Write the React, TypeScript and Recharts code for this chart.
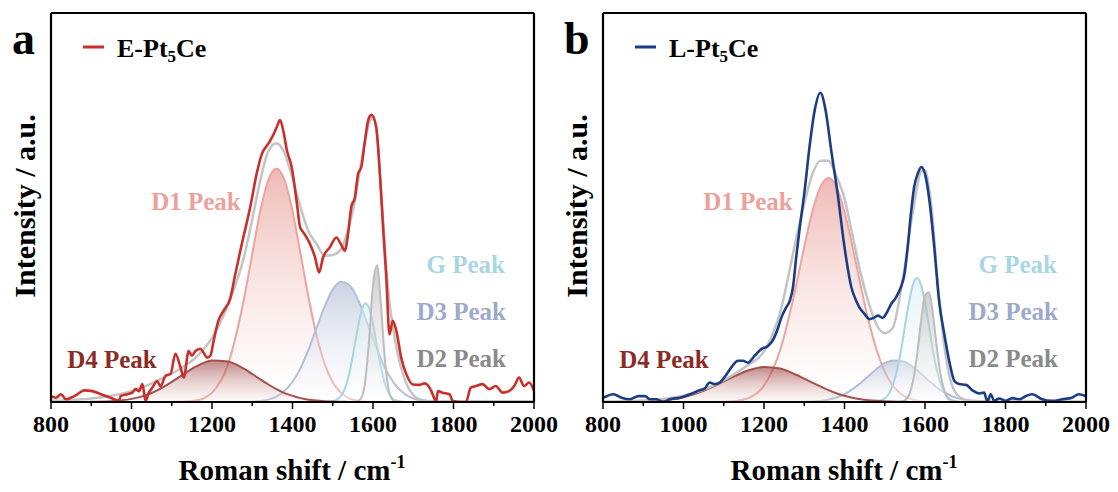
import { Area, ComposedChart, Line, XAxis, YAxis } from 'recharts';

// shared x grid (cm-1) for the fitted curves
const FIT_X = [
    800, 850, 900, 950, 1000,
    1040, 1080, 1120, 1160, 1200,
    1240, 1280, 1300, 1320, 1340,
    1360, 1380, 1400, 1420, 1440,
    1460, 1480, 1500, 1520, 1540,
    1550, 1560, 1570, 1580, 1590,
    1600, 1610, 1620, 1630, 1640,
    1650, 1660, 1680, 1700, 1720,
    1750, 1800, 1900, 2000,
];

// panel a: E-Pt5Ce
const E_FIT = [
    0.3, 0.5, 0.9, 1.6, 2.8,
    4.3, 6.3, 8.5, 11.5, 16.5,
    25.0, 37.5, 47.0, 57.0, 64.5,
    66.5, 64.0, 57.5, 50.0, 43.8,
    40.6, 37.6, 37.8, 39.2, 45.0,
    49.2, 55.0, 61.0, 67.0, 71.5,
    73.2, 68.5, 55.0, 39.0, 26.5,
    19.0, 13.0, 5.5, 1.8, 0.6,
    0.2, 0.2, 0.2, 0.2,
];
const E_D1 = [
    0, 0, 0, 0, 0,
    0, 0, 0.04, 0.4, 2.4,
    9.8, 26.8, 38.1, 49.1, 57.1,
    60.0, 57.1, 49.1, 38.1, 26.8,
    17.0, 9.8, 5.1, 2.4, 1.0,
    0.6, 0.4, 0.2, 0.1, 0.08,
    0.04, 0.02, 0, 0, 0,
    0, 0, 0, 0, 0,
    0, 0, 0, 0,
];
const E_D2 = [
    0, 0, 0, 0, 0,
    0, 0, 0, 0, 0,
    0, 0, 0, 0, 0,
    0, 0, 0, 0, 0,
    0, 0, 0, 0, 0,
    0, 0.1, 0.9, 4.8, 15.5,
    30.2, 35.1, 24.6, 10.3, 2.6,
    0.4, 0.04, 0, 0, 0,
    0, 0, 0, 0,
];
const E_D3 = [
    0, 0, 0, 0, 0,
    0, 0, 0, 0, 0,
    0, 0.03, 0.09, 0.25, 0.61,
    1.4, 2.8, 5.2, 8.7, 13.5,
    19.1, 24.6, 28.9, 30.9, 30.2,
    28.9, 26.9, 24.6, 21.9, 19.1,
    16.3, 13.5, 11.0, 8.7, 6.8,
    5.2, 3.8, 2.0, 0.9, 0.4,
    0.1, 0, 0, 0,
];
const E_D4 = [
    0, 0, 0.04, 0.2, 0.8,
    1.9, 3.9, 6.5, 9.1, 10.7,
    10.4, 8.5, 7.2, 5.8, 4.5,
    3.3, 2.3, 1.6, 1.0, 0.6,
    0.4, 0.2, 0.1, 0.06, 0.03,
    0.02, 0.01, 0, 0, 0,
    0, 0, 0, 0, 0,
    0, 0, 0, 0, 0,
    0, 0, 0, 0,
];
const E_G = [
    0, 0, 0, 0, 0,
    0, 0, 0, 0, 0,
    0, 0, 0, 0, 0,
    0, 0, 0, 0, 0,
    0, 0, 0.18, 1.5, 6.9,
    12.0, 17.8, 22.9, 25.4, 24.3,
    20.1, 14.3, 8.8, 4.6, 2.1,
    0.8, 0.3, 0.02, 0, 0,
    0, 0, 0, 0,
];
const E_SPECTRUM: [number, number][] = [
    [800, 1.5], [812, 1.1], [825, 2.0], [837, 0.7], [849, 1.1], [866, 2.0], [882, 3.0],
    [903, 2.8], [924, 2.0], [948, 1.1], [969, 0.3], [973, 1.5], [990, 2.0], [1002, 2.4],
    [1010, 3.3], [1019, 2.8], [1027, 4.6], [1035, 0.3], [1043, 2.4], [1052, 3.7], [1064, 5.4],
    [1072, 4.0], [1085, 6.8], [1097, 7.2], [1109, 12.4], [1122, 8.8], [1130, 6.3], [1142, 13.1],
    [1150, 11.9], [1159, 13.1], [1171, 13.7], [1179, 12.7], [1188, 11.4], [1196, 11.9],
    [1204, 15.7], [1216, 20.9], [1229, 23.5], [1245, 26.5], [1258, 32.9], [1274, 40.6],
    [1295, 50.1], [1311, 58.7], [1324, 63.8], [1340, 66.4], [1352, 68.6], [1361, 70.7],
    [1369, 72.5], [1377, 69.8], [1386, 64.7], [1398, 60.4], [1410, 51.8], [1419, 44.9],
    [1427, 43.6], [1435, 42.3], [1447, 39.8], [1456, 37.2], [1466, 33.3], [1476, 37.2],
    [1493, 39.8], [1509, 42.3], [1522, 40.2], [1530, 38.9], [1538, 43.2], [1546, 50.1],
    [1555, 52.6], [1563, 58.7], [1571, 60.4], [1579, 66.4], [1588, 72.4], [1596, 73.8],
    [1608, 70.7], [1616, 60.4], [1625, 44.9], [1633, 32.0], [1641, 17.4], [1649, 20.9],
    [1658, 18.3], [1670, 11.4], [1683, 7.1], [1699, 4.5], [1715, 4.4], [1728, 4.8],
    [1744, 3.0], [1750, 1.5], [1757, 0.0], [1761, 2.8], [1773, 2.4], [1790, 2.0], [1798, 0.3],
    [1814, 0.0], [1831, 0.0], [1843, 3.7], [1856, 4.1], [1872, 4.6], [1889, 3.3], [1905, 4.1],
    [1922, 2.4], [1938, 2.8], [1951, 4.1], [1963, 6.3], [1975, 4.1], [1988, 5.0], [2000, 2.8],
];

// panel b: L-Pt5Ce
const L_FIT = [
    0.1, 0.2, 0.4, 0.8, 1.6,
    2.8, 4.5, 6.8, 9.5, 13.0,
    23.0, 42.0, 51.0, 58.5, 62.0,
    62.0, 58.0, 52.3, 42.8, 33.2,
    25.5, 19.8, 17.7, 19.1, 28.6,
    35.0, 42.5, 49.0, 55.0, 59.2,
    59.5, 55.0, 45.8, 32.5, 21.8,
    12.8, 7.0, 1.8, 0.6, 0.3,
    0.1, 0.1, 0.1, 0.1,
];
const L_D1 = [
    0, 0, 0, 0, 0,
    0, 0.02, 0.16, 0.97, 4.2,
    13.3, 30.0, 39.9, 48.9, 55.3,
    57.6, 55.3, 48.9, 39.9, 30.0,
    20.8, 13.3, 7.8, 4.2, 2.1,
    1.45, 0.97, 0.64, 0.41, 0.26,
    0.16, 0.1, 0.06, 0.03, 0,
    0, 0, 0, 0, 0,
    0, 0, 0, 0,
];
const L_D2 = [
    0, 0, 0, 0, 0,
    0, 0, 0, 0, 0,
    0, 0, 0, 0, 0,
    0, 0, 0, 0, 0,
    0, 0, 0, 0, 0.09,
    0.46, 1.8, 5.2, 11.8, 20.6,
    27.5, 28.2, 22.3, 13.5, 6.3,
    2.3, 0.6, 0.02, 0, 0,
    0, 0, 0, 0,
];
const L_D3 = [
    0, 0, 0, 0, 0,
    0, 0, 0, 0, 0,
    0, 0.02, 0.05, 0.13, 0.29,
    0.61, 1.16, 2.0, 3.3, 4.9,
    6.7, 8.5, 10.0, 10.7, 10.6,
    10.3, 9.7, 9.0, 8.2, 7.3,
    6.4, 5.4, 4.6, 3.7, 3.0,
    2.4, 1.8, 1.0, 0.5, 0.25,
    0.07, 0, 0, 0,
];
const L_D4 = [
    0, 0.03, 0.12, 0.42, 1.24,
    2.5, 4.3, 6.3, 8.1, 9.0,
    8.6, 7.0, 6.0, 5.0, 4.0,
    3.05, 2.26, 1.6, 1.1, 0.73,
    0.47, 0.29, 0.17, 0.1, 0.05,
    0.04, 0.03, 0.02, 0.01, 0,
    0, 0, 0, 0, 0,
    0, 0, 0, 0, 0,
    0, 0, 0, 0,
];
const L_G = [
    0, 0, 0, 0, 0,
    0, 0, 0, 0, 0,
    0, 0, 0, 0, 0,
    0, 0, 0, 0, 0,
    0, 0.12, 0.9, 4.3, 13.1,
    19.4, 25.5, 30.2, 31.9, 30.2,
    25.5, 19.4, 13.1, 8.0, 4.3,
    2.1, 0.9, 0.12, 0, 0,
    0, 0, 0, 0,
];
const L_SPECTRUM: [number, number][] = [
    [801, 1.1], [826, 2.0], [846, 1.1], [867, 0.7], [888, 1.5], [904, 1.5], [917, 0.7],
    [933, 0.7], [949, 0.0], [966, 0.7], [991, 1.1], [1016, 2.0], [1040, 3.0], [1053, 3.5],
    [1065, 5.0], [1078, 4.6], [1090, 5.0], [1107, 7.1], [1123, 9.5], [1135, 10.6], [1148, 10.6],
    [1160, 10.1], [1177, 11.9], [1193, 13.6], [1210, 14.4], [1222, 15.9], [1235, 19.1],
    [1243, 21.7], [1255, 24.3], [1264, 26.0], [1272, 29.5], [1280, 37.2], [1288, 44.1],
    [1301, 54.4], [1313, 65.5], [1326, 75.0], [1340, 79.5], [1353, 75.0], [1367, 64.7],
    [1383, 53.5], [1400, 39.8], [1417, 29.5], [1429, 26.0], [1437, 24.3], [1450, 22.6],
    [1462, 21.3], [1474, 21.7], [1483, 22.2], [1495, 21.6], [1503, 22.6], [1516, 25.2],
    [1528, 26.9], [1540, 29.5], [1549, 32.9], [1557, 39.8], [1565, 48.4], [1573, 55.2],
    [1582, 58.7], [1591, 60.4], [1601, 58.2], [1611, 51.8], [1623, 39.8], [1635, 26.0],
    [1648, 17.4], [1660, 10.6], [1673, 5.4], [1685, 4.6], [1702, 4.4], [1718, 3.0],
    [1735, 2.2], [1747, 2.4], [1755, 0.0], [1763, 2.0], [1772, 0.3], [1784, 0.9], [1801, 0.3],
    [1817, 1.0], [1834, 0.7], [1850, 1.5], [1866, 2.0], [1891, 0.7], [1916, 0.3], [1941, 0.7],
    [1965, 1.1], [1982, 2.0], [2000, 1.5],
];

const X_TICKS = [800, 900, 1000, 1100, 1200, 1300, 1400, 1500, 1600, 1700, 1800, 1900, 2000];

const FONT = "'Liberation Serif', 'Times New Roman', serif";

// fitted components, in drawing order
const PEAKS = [
    { key: 'd1', stroke: '#EEA49E', top: '#E2847D', bottom: '#FFFFFF' },
    { key: 'd3', stroke: '#B3BEDA', top: '#A3AFCC', bottom: '#FFFFFF' },
    { key: 'g', stroke: '#A6D6E1', top: '#D3EBF1', bottom: '#FFFFFF' },
    { key: 'd2', stroke: '#BDBDBD', top: '#A8A8A8', bottom: '#FFFFFF' },
    { key: 'd4', stroke: '#A4504C', top: '#8F2C29', bottom: '#F6E6E5' },
];

const LABELS = [
    { text: 'D1 Peak', color: '#EDA19B', x: 196, y: 210, anchor: 'middle' },
    { text: 'G Peak', color: '#A9D7E1', x: 505, y: 273, anchor: 'end' },
    { text: 'D3 Peak', color: '#9EAAC9', x: 506, y: 320, anchor: 'end' },
    { text: 'D2 Peak', color: '#8A8A8A', x: 506, y: 367, anchor: 'end' },
    { text: 'D4 Peak', color: '#8C2A26', x: 112, y: 368, anchor: 'middle' },
];

const PANELS = [
    { id: 'a', name: 'E', color: '#C9302B', dx: 0, fit: [E_FIT, E_D1, E_D2, E_D3, E_D4, E_G], spectrum: E_SPECTRUM },
    { id: 'b', name: 'L', color: '#1C3D84', dx: 552, fit: [L_FIT, L_D1, L_D2, L_D3, L_D4, L_G], spectrum: L_SPECTRUM },
];

const buildFit = ([total, d1, d2, d3, d4, g]: number[][]) =>
    FIT_X.map((x, i) => ({ x, total: total[i], d1: d1[i], d2: d2[i], d3: d3[i], d4: d4[i], g: g[i] }));

const XTick = (props: any) => {
    const { x, y, payload } = props;
    const major = payload.value % 200 === 0;
    return (
        <g>
            <line x1={x} x2={x} y1={y} y2={y + (major ? 7 : 4)} stroke="#000" strokeWidth={1.5} />
            {major && (
                <text x={x} y={y + 30} textAnchor="middle" fontFamily={FONT} fontWeight="bold" fontSize={24} fill="#000">
                    {payload.value}
                </text>
            )}
        </g>
    );
};

const frame = { stroke: '#000', strokeWidth: 2.2 };

function Panel({ panel }: { panel: (typeof PANELS)[number] }) {
    const data = buildFit(panel.fit);
    const spectrum = panel.spectrum.map(([x, y]) => ({ x, y }));
    return (
        <ComposedChart width={559} height={492} data={data} margin={{ top: 12, right: 24, bottom: 40, left: 50 }}>
            <defs>
                {PEAKS.map((p) => (
                    <linearGradient key={p.key} id={`${panel.id}-${p.key}`} x1="0" y1="0" x2="0" y2="1">
                        <stop offset="0%" stopColor={p.top} stopOpacity={0.95} />
                        <stop offset="100%" stopColor={p.bottom} stopOpacity={0.4} />
                    </linearGradient>
                ))}
            </defs>
            <XAxis
                xAxisId="bottom"
                dataKey="x"
                type="number"
                domain={[800, 2000]}
                ticks={X_TICKS}
                interval={0}
                tick={XTick}
                tickLine={false}
                tickSize={0}
                tickMargin={0}
                height={50}
                axisLine={frame}
                allowDataOverflow
            />
            <XAxis xAxisId="top" orientation="top" dataKey="x" type="number" domain={[800, 2000]} tick={false} tickLine={false} height={1} axisLine={frame} />
            <YAxis yAxisId="left" type="number" domain={[0, 100]} tick={false} tickLine={false} width={1} axisLine={frame} allowDataOverflow />
            <YAxis yAxisId="right" orientation="right" type="number" domain={[0, 100]} tick={false} tickLine={false} width={1} axisLine={frame} />
            {PEAKS.map((p) => (
                <Area
                    key={p.key}
                    xAxisId="bottom"
                    yAxisId="left"
                    dataKey={p.key}
                    type="monotone"
                    stroke={p.stroke}
                    strokeWidth={2}
                    fill={`url(#${panel.id}-${p.key})`}
                    isAnimationActive={false}
                />
            ))}
            <Line xAxisId="bottom" yAxisId="left" dataKey="total" type="monotone" stroke="#C4C4C4" strokeWidth={2.5} dot={false} isAnimationActive={false} />
            <Line
                xAxisId="bottom"
                yAxisId="left"
                data={spectrum}
                dataKey="y"
                type="monotone"
                stroke={panel.color}
                strokeWidth={2.6}
                dot={false}
                isAnimationActive={false}
            />
        </ComposedChart>
    );
}

export default function App() {
    return (
        <div style={{ position: 'absolute', left: 0, top: 0, width: 1118, height: 492, background: '#fff' }}>
            {PANELS.map((panel) => (
                <div key={panel.id} style={{ position: 'absolute', left: panel.dx, top: 0 }}>
                    <Panel panel={panel} />
                </div>
            ))}
            <svg width={1118} height={492} style={{ position: 'absolute', left: 0, top: 0, pointerEvents: 'none' }} fontFamily={FONT} fontWeight="bold">
                {PANELS.map((panel) => (
                    <g key={panel.id} transform={`translate(${panel.dx},0)`}>
                        <text x={12} y={54} fontSize={46}>{panel.id}</text>
                        <line x1={83} x2={104} y1={47} y2={47} stroke={panel.color} strokeWidth={3} />
                        <text x={117} y={57} fontSize={26}>
                            {panel.name}-Pt<tspan fontSize={17} dy={5}>5</tspan>
                            <tspan dy={-5}>Ce</tspan>
                        </text>
                        <text x={35} y={206} transform="rotate(-90 35 206)" textAnchor="middle" fontSize={30}>
                            Intensity / a.u.
                        </text>
                        <text x={292} y={480} textAnchor="middle" fontSize={29}>
                            Roman shift / cm<tspan fontSize={18} dy={-12}>-1</tspan>
                        </text>
                        {LABELS.map((l) => (
                            <text key={l.text} x={l.x} y={l.y} fill={l.color} fontSize={25} textAnchor={l.anchor as any}>
                                {l.text}
                            </text>
                        ))}
                    </g>
                ))}
            </svg>
        </div>
    );
}
